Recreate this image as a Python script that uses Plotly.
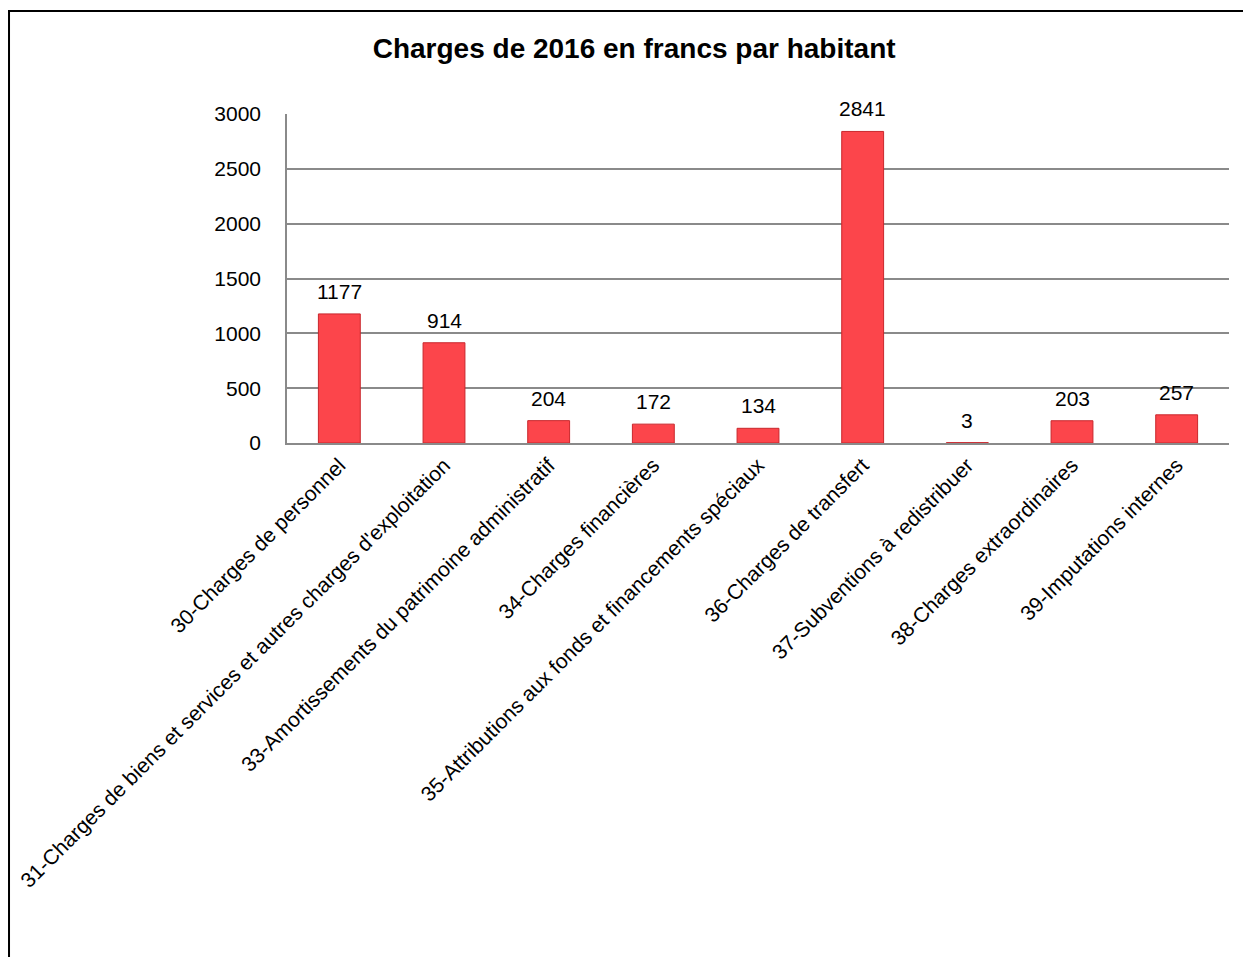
import plotly.graph_objects as go

categories = [
    "30-Charges de personnel",
    "31-Charges de biens et services et autres charges d'exploitation",
    "33-Amortissements du patrimoine administratif",
    "34-Charges financières",
    "35-Attributions aux fonds et financements spéciaux",
    "36-Charges de transfert",
    "37-Subventions à redistribuer",
    "38-Charges extraordinaires",
    "39-Imputations internes",
]
values = [1177, 914, 204, 172, 134, 2841, 3, 203, 257]
y_ticks = [0, 500, 1000, 1500, 2000, 2500, 3000]

FONT = "Liberation Sans, Arial, sans-serif"
GRID = "#8a8a8a"

fig = go.Figure()
fig.add_trace(go.Bar(
    x=categories,
    y=values,
    width=0.4,
    marker=dict(color="#fc454b", line=dict(color="#c9272c", width=1)),
    hoverinfo="x+y",
))

# data labels above the bars
for c, v in zip(categories, values):
    fig.add_annotation(x=c, y=v, text=str(v), showarrow=False,
                       yanchor="bottom", yshift=9,
                       font=dict(family=FONT, size=21, color="black"))

# chart border (right and bottom edges run off the page)
fig.add_shape(type="rect", xref="paper", yref="paper",
              x0=-0.2951, x1=1.05, y0=-1.7, y1=1.313,
              line=dict(color="black", width=2), fillcolor="rgba(0,0,0,0)")

fig.update_layout(
    width=1235,
    height=949,
    margin=dict(l=279, r=14, t=106, b=514, autoexpand=False),
    paper_bgcolor="white",
    plot_bgcolor="white",
    showlegend=False,
    bargap=0.6,
    font=dict(family=FONT, size=21, color="black"),
    title=dict(
        text="<b>Charges de 2016 en francs par habitant</b>",
        font=dict(family=FONT, size=28, color="black"),
        x=0.507, xref="container", xanchor="center",
        y=1 - 40 / 949, yref="container", yanchor="middle",
    ),
    xaxis=dict(
        tickangle=-45,
        automargin=False,
        showline=True, linecolor=GRID, linewidth=1.5,
        showgrid=False,
        tickfont=dict(family=FONT, size=21, color="black"),
    ),
    yaxis=dict(
        range=[0, 3000],
        tickvals=y_ticks,
        automargin=False,
        showline=True, linecolor=GRID, linewidth=1.5,
        showgrid=True, gridcolor=GRID, gridwidth=1.5,
        zeroline=False,
        tickfont=dict(family=FONT, size=21, color="black"),
        ticks="", ticklen=0,
        ticklabelstandoff=20,
    ),
)

fig.write_html("out.html")
